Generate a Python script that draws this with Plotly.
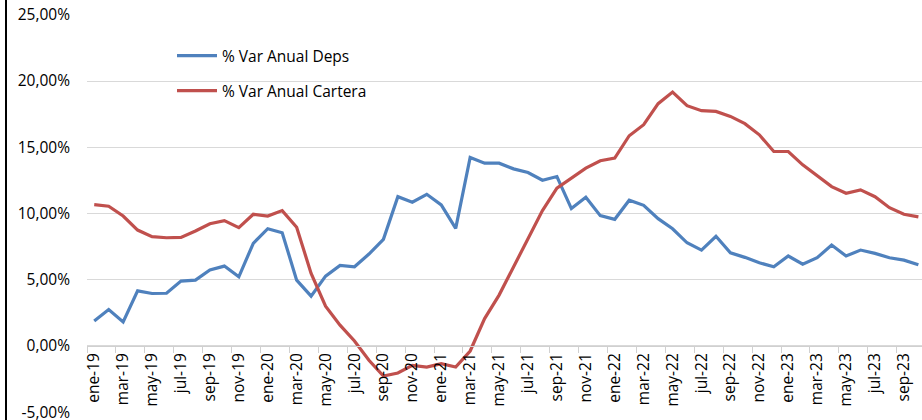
import plotly.graph_objects as go

# meses ene-19 .. oct-23
MESES = ["ene", "feb", "mar", "abr", "may", "jun", "jul", "ago", "sep", "oct", "nov", "dic"]
ANIOS = ["19", "20", "21", "22", "23"]
fechas = [f"{m}-{a}" for a in ANIOS for m in MESES][:58]

var_deps = [
    1.89, 2.75, 1.82, 4.16, 3.96, 3.98, 4.90, 4.97, 5.73, 6.03, 5.22, 7.75,
    8.85, 8.55, 4.97, 3.76, 5.27, 6.08, 5.98, 6.94, 8.05, 11.27, 10.85, 11.45,
    10.65, 8.88, 14.23, 13.80, 13.80, 13.37, 13.09, 12.51, 12.79, 10.37, 11.23, 9.84,
    9.56, 11.00, 10.62, 9.61, 8.85, 7.79, 7.24, 8.28, 7.03, 6.69, 6.28, 5.98,
    6.79, 6.18, 6.66, 7.62, 6.79, 7.24, 6.99, 6.66, 6.48, 6.13,
]
var_cartera = [
    10.67, 10.55, 9.81, 8.75, 8.25, 8.17, 8.20, 8.68, 9.23, 9.46, 8.93, 9.94,
    9.81, 10.22, 8.96, 5.48, 3.00, 1.57, 0.38, -1.08, -2.27, -2.04, -1.46, -1.59,
    -1.33, -1.59, -0.38, 2.07, 3.84, 5.98, 8.13, 10.22, 11.91, 12.67, 13.42, 13.98,
    14.18, 15.87, 16.70, 18.29, 19.17, 18.14, 17.76, 17.71, 17.33, 16.78, 15.94, 14.68,
    14.68, 13.67, 12.84, 12.03, 11.53, 11.78, 11.27, 10.44, 9.94, 9.74,
]

y_ticks = [-5, 0, 5, 10, 15, 20, 25]
y_labels = [f"{v:.2f}%".replace(".", ",") for v in y_ticks]

FONT = "Open Sans"
FS = 15.5
W, H = 922, 420
ML, MR, MT, MB = 87, 0, 14, 7
Y_LO, Y_HI = -5.06, 25.06

fig = go.Figure()
fig.add_trace(go.Scatter(
    x=fechas, y=var_deps, mode="lines", name="% Var Anual Deps",
    line=dict(color="#4f81bd", width=3.2), legend="legend",
))
fig.add_trace(go.Scatter(
    x=fechas, y=var_cartera, mode="lines", name="% Var Anual Cartera",
    line=dict(color="#c0504d", width=3.2), legend="legend2",
))

pw = W - ML - MR
ph = H - MT - MB
leg_x = (172 - ML) / pw


def py(pix):
    return 1 - (pix - MT) / ph


leg_common = dict(
    x=leg_x, xanchor="left", yanchor="middle", bgcolor="rgba(0,0,0,0)",
    itemwidth=40, font=dict(family=FONT, size=FS, color="#000"),
)

fig.update_layout(
    width=W, height=H,
    margin=dict(l=ML, r=MR, t=MT, b=MB, autoexpand=False),
    paper_bgcolor="#fff", plot_bgcolor="#fff",
    font=dict(family=FONT, size=FS, color="#000"),
    showlegend=True,
    legend=dict(y=py(56), **leg_common),
    legend2=dict(y=py(91), **leg_common),
    xaxis=dict(
        type="category", range=[-0.5, 57.25], automargin=False,
        anchor="free", position=(0 - Y_LO) / (Y_HI - Y_LO),
        showgrid=False, showline=True, linecolor="#d0d0d0", linewidth=1,
        ticks="outside", ticklen=6, tickcolor="#d0d0d0", tickson="boundaries",
        dtick=2, tickangle=-90, tickfont=dict(family=FONT, size=FS),
    ),
    yaxis=dict(
        range=[Y_LO, Y_HI], tickvals=y_ticks, ticktext=y_labels, automargin=False,
        showgrid=True, gridcolor="#d9d9d9", gridwidth=1, ticklabeloverflow="allow",
        zeroline=False, showline=False, ticks="", ticklabelstandoff=16,
        tickfont=dict(family=FONT, size=FS),
    ),
)

# marco izquierdo del gráfico
fig.add_shape(type="line", xref="paper", yref="paper",
              x0=(6 - ML) / pw, x1=(6 - ML) / pw, y0=-MB / ph, y1=1 + MT / ph,
              line=dict(color="#000", width=2))

fig.write_html("out.html", config={"displayModeBar": False},
               post_script="document.body.style.margin='0';")
